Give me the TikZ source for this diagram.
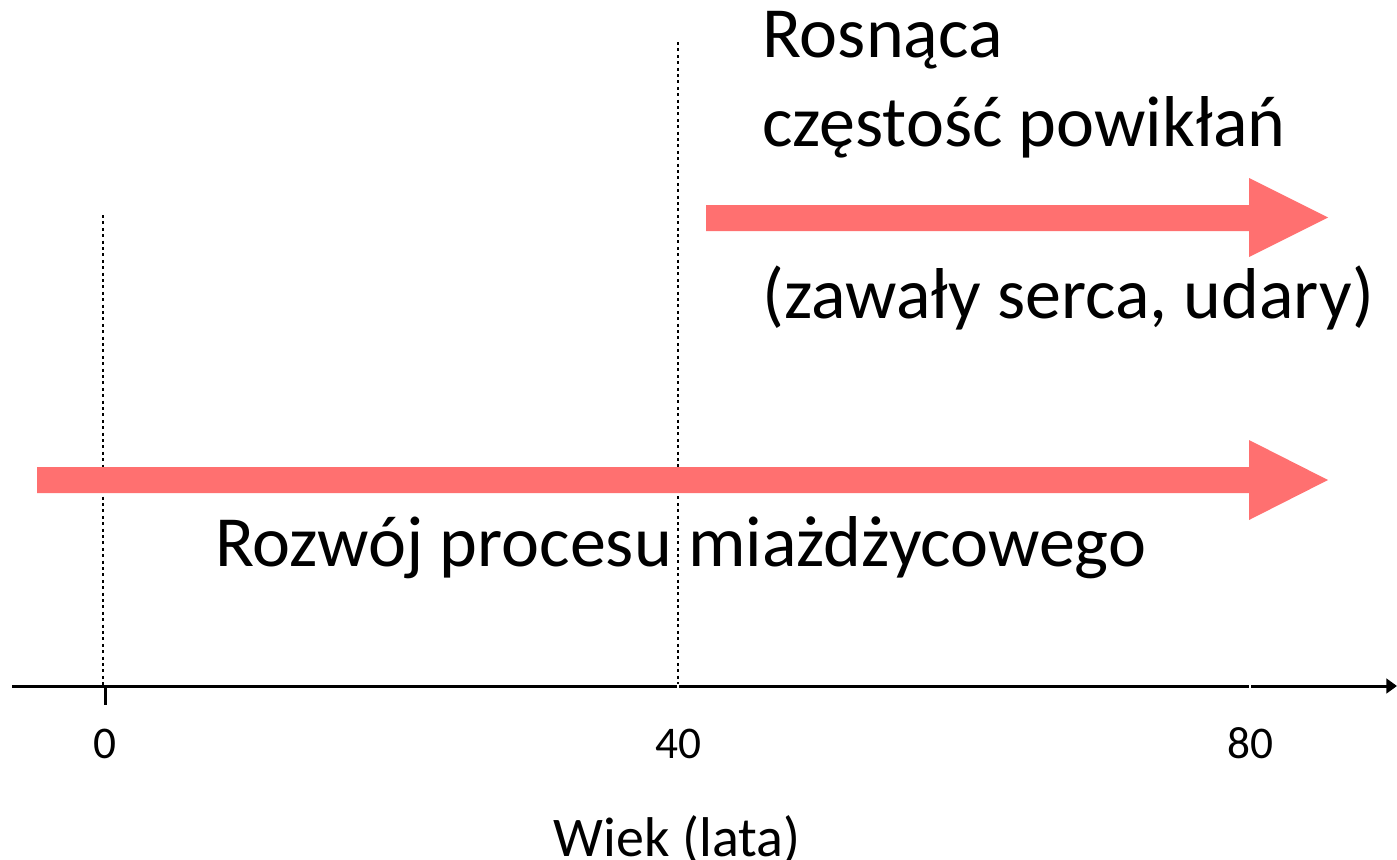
\documentclass[tikz,border=0pt]{standalone}
\usepackage{fontspec}
\setmainfont{Carlito}
\usetikzlibrary{arrows.meta}
\definecolor{arrowred}{RGB}{255,112,112}
\tikzset{
  bigtxt/.style={font=\fontsize{54}{58}\selectfont, anchor=base west, inner sep=0pt},
  ticktxt/.style={font=\fontsize{34}{38}\selectfont, anchor=base, inner sep=0pt},
  guide/.style={line width=1.5pt, dash pattern=on 2.2pt off 2.6pt},
  blockarrow/.style={fill=arrowred, draw=none},
  axisline/.style={line width=2.25pt, -{Triangle[length=8pt,width=11pt]}}
}
\begin{document}
\begin{tikzpicture}[x=0.75pt,y=-0.75pt]
\useasboundingbox (0,0) rectangle (1397,860);
% guides
\coordinate (g0top) at (103,215);
\coordinate (g0bot) at (103,686);
\coordinate (g40top) at (678,42);
\coordinate (g40bot) at (678,686);
\draw[guide] (g0top) -- (g0bot);
\draw[guide] (g40top) -- (g40bot);
% block arrows
\fill[blockarrow] (37,467) -- (1249,467) -- (1249,440) -- (1328,480) -- (1249,520) -- (1249,493) -- (37,493) -- cycle;
\fill[blockarrow] (706,205) -- (1249,205) -- (1249,178) -- (1328,217.5) -- (1249,257) -- (1249,231) -- (706,231) -- cycle;
% axis
\coordinate (axstart) at (12,686);
\coordinate (axend) at (1397,686);
\draw[axisline] (axstart) -- (axend);
\coordinate (t0a) at (105,686);
\coordinate (t0b) at (105,705);
\draw[line width=2.25pt] (t0a) -- (t0b);
\draw[white,line width=1.2pt] (678,684) -- (678,688);
\draw[white,line width=1.2pt] (1250,684) -- (1250,688);
% labels
\node[ticktxt] (l0) at (105,758) {0};
\node[ticktxt] (l40) at (678,758) {40};
\node[ticktxt] (l80) at (1250,758) {80};
\node[ticktxt, font=\fontsize{42}{46}\selectfont] (wiek) at (677,856) {Wiek (lata)};
\node[bigtxt] (t1) at (762,57) {Rosnąca};
\node[bigtxt] (t2) at (762,146) {częstość powikłań};
\node[bigtxt] (t3) at (762,318) {(zawały serca, udary)};
\node[bigtxt] (t4) at (215,566) {Rozwój procesu miażdżycowego};
\end{tikzpicture}
\end{document}
